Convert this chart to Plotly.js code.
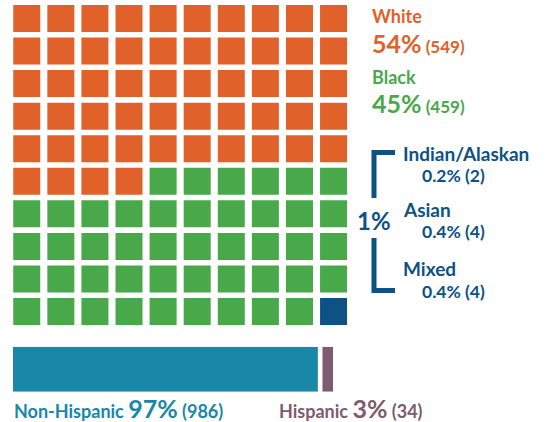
<!DOCTYPE html>
<html><head><meta charset="utf-8">
<script src="https://cdn.plot.ly/plotly-3.0.1.min.js"></script>
<style>html,body{margin:0;padding:0;background:#fff}#chart{width:545px;height:422px}</style>
</head><body><div id="chart"></div>
<script>
// ---- data ----
const wafflGroups = ["White", "Black", "Other"];
const waffleCells = [54, 45, 1];            // squares out of 100
const groupColors = ["#e0612a", "#48a84a", "#0d5185"];
const raceLabels = ["White", "Black"];
const racePct = [54, 45];
const raceCounts = [549, 459];
const otherLabels = ["Indian/Alaskan", "Asian", "Mixed"];
const otherPct = [0.2, 0.4, 0.4];
const otherCounts = [2, 4, 4];
const otherTotalPct = 1;
const ethLabels = ["Non-Hispanic", "Hispanic"];
const ethPct = [97, 3];
const ethCounts = [986, 34];
const ethColors = ["#1a87a8", "#7e5b6d"];

// ---- build waffle ----
const W = 545, H = 422;
const traces = [];
let idx = 0;
wafflGroups.forEach((g, gi) => {
  const xs = [], ys = [];
  for (let k = 0; k < waffleCells[gi]; k++, idx++) {
    xs.push(idx % 10); ys.push(Math.floor(idx / 10));
  }
  traces.push({type: "scatter", mode: "markers", x: xs, y: ys, xaxis: "x", yaxis: "y",
    marker: {symbol: "square", size: 27, color: groupColors[gi], line: {width: 0}},
    hoverinfo: "skip", showlegend: false});
});
// ---- ethnicity bar ----
const gap = 15;
traces.push({type: "bar", orientation: "h", x: [ethCounts[0]], base: [0], y: [0], width: 1,
  xaxis: "x2", yaxis: "y2", marker: {color: ethColors[0]}, hoverinfo: "skip", showlegend: false});
traces.push({type: "bar", orientation: "h", x: [ethCounts[1]], base: [ethCounts[0] + gap], y: [0], width: 1,
  xaxis: "x2", yaxis: "y2", marker: {color: ethColors[1]}, hoverinfo: "skip", showlegend: false});

const px = v => v / W, py = v => 1 - v / H;
const hidden = {showgrid: false, zeroline: false, showticklabels: false, showline: false, ticks: "", fixedrange: true};
const F = "Lato, 'Open Sans', sans-serif";
const ann = [];
function add(x, y, text, color, size) {
  ann.push({xref: "paper", yref: "paper", x: px(x), y: py(y), xanchor: "left", yanchor: "middle",
    text: text, showarrow: false, font: {family: F, size: size, color: color}});
}
const big = t => `<span style="font-size:25px">${t}</span>`;
// race labels
const raceY = [[16, 43], [77, 103]];
raceLabels.forEach((l, i) => {
  add(370, raceY[i][0], `<b>${l}</b>`, groupColors[i], 18);
  add(370, raceY[i][1], `<b>${big(racePct[i] + "%")} (${raceCounts[i]})</b>`, groupColors[i], 17);
});
// other
const oy = [[153, 175], [210, 231], [268, 291]];
otherLabels.forEach((l, i) => {
  add(401, oy[i][0], `<b>${l}</b>`, groupColors[2], 19);
  add(420, oy[i][1], `<b>${otherPct[i]}% (${otherCounts[i]})</b>`, groupColors[2], 17.5);
});
ann.push({xref: "paper", yref: "paper", x: px(374), y: py(220), xanchor: "center", yanchor: "middle",
  text: `<b>${otherTotalPct}%</b>`, showarrow: false, font: {family: F, size: 24, color: groupColors[2]}});
// ethnicity labels
const ex = [12, 277];
ethLabels.forEach((l, i) => {
  add(ex[i], 408, `<b>${l} ${big(ethPct[i] + "%")} (${ethCounts[i]})</b>`, ethColors[i], 18);
});
const bc = groupColors[2];
const shapes = [
  {type: "path", xref: "paper", yref: "paper",
   path: `M ${px(395)},${py(152.5)} L ${px(374)},${py(152.5)} L ${px(374)},${py(198)}`,
   line: {color: bc, width: 5}},
  {type: "path", xref: "paper", yref: "paper",
   path: `M ${px(374)},${py(238)} L ${px(374)},${py(290.5)} L ${px(395)},${py(290.5)}`,
   line: {color: bc, width: 5}}
];

const layout = {
  width: W, height: H, margin: {l: 0, r: 0, t: 0, b: 0},
  paper_bgcolor: "#fff", plot_bgcolor: "rgba(0,0,0,0)",
  xaxis: Object.assign({range: [-0.5, 9.5], domain: [px(9.7), px(350.6)]}, hidden),
  yaxis: Object.assign({range: [9.5, -0.5], domain: [py(327.8), py(2.2)]}, hidden),
  xaxis2: Object.assign({range: [0, ethCounts[0] + gap + ethCounts[1]], domain: [px(13), px(333)], anchor: "y2"}, hidden),
  yaxis2: Object.assign({range: [-0.5, 0.5], domain: [py(391.7), py(346.7)], anchor: "x2"}, hidden),
  annotations: ann, shapes: shapes, barmode: "overlay"
};
Plotly.newPlot("chart", traces, layout, {displayModeBar: false, staticPlot: true});
</script></body></html>
